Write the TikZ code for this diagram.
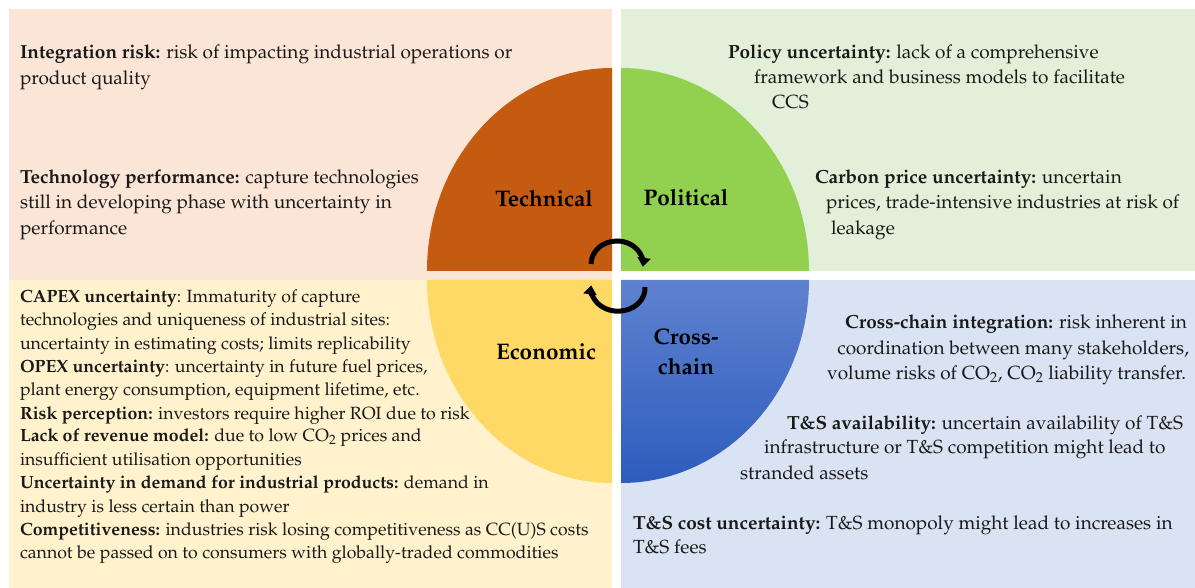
\documentclass[tikz,border=0pt]{standalone}
\usepackage[T1]{fontenc}
\usepackage{mathpazo}
\usetikzlibrary{arrows.meta}
\definecolor{peach}{RGB}{251,229,214}
\definecolor{lgreen}{RGB}{226,240,217}
\definecolor{lyellow}{RGB}{255,242,204}
\definecolor{lblue}{RGB}{218,227,243}
\definecolor{dorange}{RGB}{197,90,17}
\definecolor{dgreen}{RGB}{146,208,80}
\definecolor{dyellow}{RGB}{255,217,102}
\definecolor{bluetop}{RGB}{95,130,207}
\definecolor{bluebot}{RGB}{45,92,190}
\tikzset{
  txt/.style={inner sep=0pt, outer sep=0pt, font=\fontsize{19}{23}\selectfont, text=black!90},
  txts/.style={inner sep=0pt, outer sep=0pt, font=\fontsize{17.7}{21}\selectfont, text=black!90},
  pielabel/.style={inner sep=0pt, font=\fontsize{22.5}{30}\selectfont\bfseries, text=black, align=center},
  cyc/.style={line width=5pt, black, -{Triangle[length=9pt,width=13pt]}}
}
\newcommand\txtw[4]{\node[txt,anchor=base west] (#1) at (#2,#3) {#4};}
\newcommand\txte[4]{\node[txt,anchor=base east] (#1) at (#2,#3) {#4};}
\newcommand\txts[4]{\node[txts,anchor=base west] (#1) at (#2,#3) {#4};}
\begin{document}
\begin{tikzpicture}[x=1pt,y=-1pt]
\useasboundingbox (0,0) rectangle (1195,588);
\fill[white] (0,0) rectangle (1195,588);
% quadrant backgrounds
\fill[peach] (9,9) rectangle (612,280);
\fill[lgreen] (621,9) rectangle (1195,271);
\fill[lyellow] (9,280) rectangle (612,588);
\fill[lblue] (621,280) rectangle (1195,588);
% pie quarters
\fill[dorange] (612,271) -- (612,68) arc[start angle=270, end angle=180, x radius=185, y radius=203] -- cycle;
\fill[dgreen] (621,271) -- (621,68) arc[start angle=270, end angle=360, x radius=188, y radius=203] -- cycle;
\fill[dyellow] (612,280) -- (612,483) arc[start angle=90, end angle=180, x radius=185, y radius=203] -- cycle;
\shade[top color=bluetop, bottom color=bluebot] (621,280) -- (621,483) arc[start angle=90, end angle=0, x radius=188, y radius=203] -- cycle;
% pie labels
\node[pielabel] (tech) at (544,199) {Technical};
\node[pielabel] (pol) at (686,198) {Political};
\node[pielabel] (eco) at (546,352) {Economic};
\node[pielabel] (cross) at (686,352) {Cross-\\chain};
% cycle arrows
\draw[cyc] (591,264) arc[start angle=180, end angle=367, x radius=26, y radius=23];
\draw[cyc] (645,287) arc[start angle=-3, end angle=187, x radius=27, y radius=23];
% top-left texts
\txtw{tl1}{20}{59}{\textbf{Integration risk:} risk of impacting industrial operations or}
\txtw{tl2}{20}{85}{product quality}
\txtw{tl3}{20}{184}{\textbf{Technology performance:} capture technologies}
\txtw{tl4}{20}{209}{still in developing phase with uncertainty in}
\txtw{tl5}{20}{235}{performance}
% top-right texts
\txtw{tr1}{728}{59}{\textbf{Policy uncertainty:} lack of a comprehensive}
\txtw{tr2}{754}{84}{framework and business models to facilitate}
\txtw{tr3}{772}{109}{CCS}
\txtw{tr4}{815}{184}{\textbf{Carbon price uncertainty:} uncertain}
\txtw{tr5}{826}{209}{prices, trade-intensive industries at risk of}
\txtw{tr6}{831}{235}{leakage}
% bottom-left texts
\txts{bl1}{20}{303}{\textbf{CAPEX uncertainty}: Immaturity of capture}
\txts{bl2}{20}{326}{technologies and uniqueness of industrial sites:}
\txts{bl3}{20}{349}{uncertainty in estimating costs; limits replicability}
\txts{bl4}{20}{372}{\textbf{OPEX uncertainty}: uncertainty in future fuel prices,}
\txts{bl5}{20}{395}{plant energy consumption, equipment lifetime, etc.}
\txts{bl6}{20}{419}{\textbf{Risk perception:} investors require higher ROI due to risk}
\txts{bl7}{20}{441}{\textbf{Lack of revenue model:} due to low CO\textsubscript{2} prices and}
\txts{bl8}{20}{465}{insufficient utilisation opportunities}
\txts{bl9}{20}{488}{\textbf{Uncertainty in demand for industrial products:} demand in}
\txts{bl10}{20}{512}{industry is less certain than power}
\txts{bl11}{20}{535}{\textbf{Competitiveness:} industries risk losing competitiveness as CC(U)S costs}
\txts{bl12}{20}{558}{cannot be passed on to consumers with globally-traded commodities}
% bottom-right texts
\txte{br1}{1187}{329}{\textbf{Cross-chain integration:} risk inherent in}
\txte{br2}{1189}{354}{coordination between many stakeholders,}
\txte{br3}{1186}{379}{volume risks of CO\textsubscript{2}, CO\textsubscript{2} liability transfer.}
\txtw{br4}{787}{429}{\textbf{T\&S availability:} uncertain availability of T\&S}
\txtw{br5}{764}{453}{infrastructure or T\&S competition might lead to}
\txtw{br6}{740}{479}{stranded assets}
\txtw{br7}{633}{529}{\textbf{T\&S cost uncertainty:} T\&S monopoly might lead to increases in}
\txtw{br8}{633}{553}{T\&S fees}
\end{tikzpicture}
\end{document}
